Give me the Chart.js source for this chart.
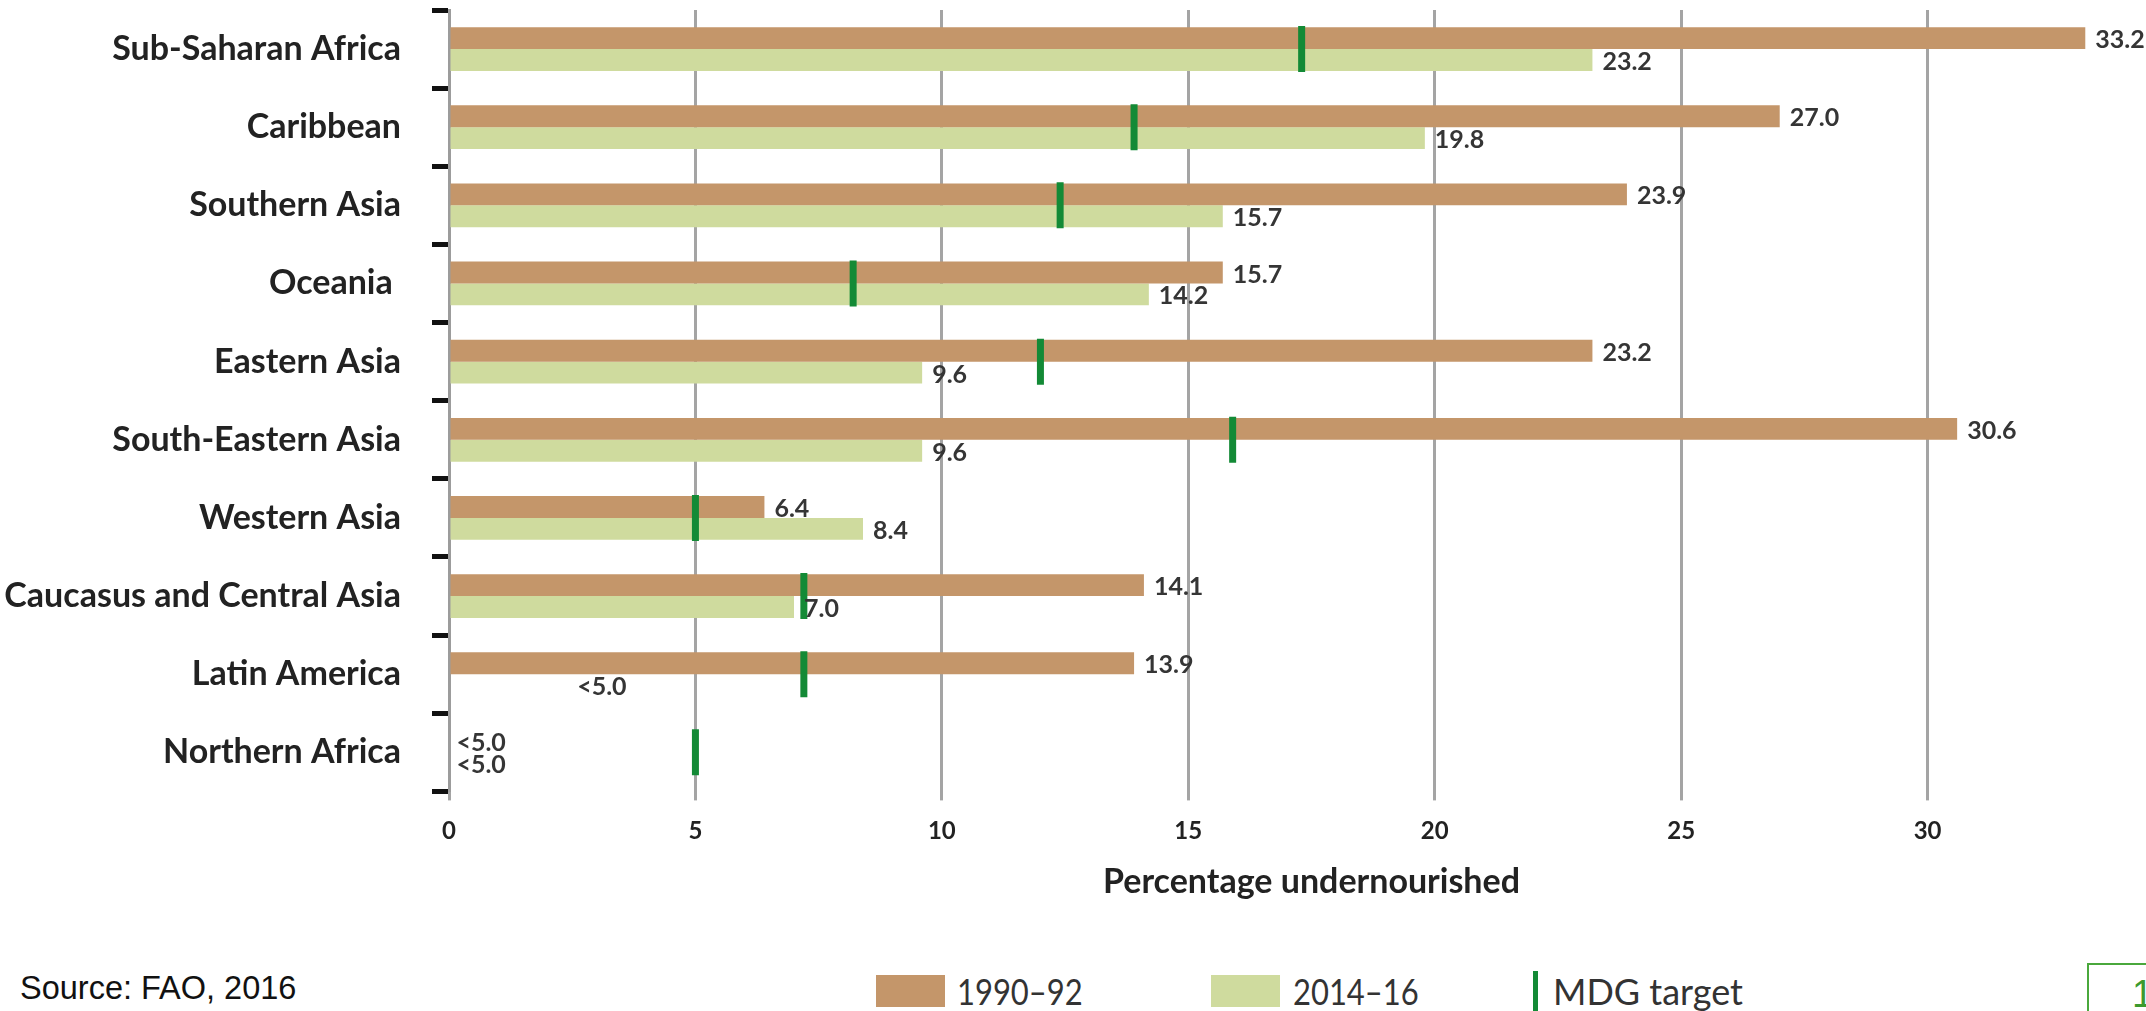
<!DOCTYPE html>
<html>
<head>
<meta charset="utf-8">
<script src="https://cdn.jsdelivr.net/npm/chart.js@4.4.1/dist/chart.umd.min.js"></script>
<style>
  html, body { margin: 0; padding: 0; background: #fff; overflow: hidden; }
  #page { position: relative; width: 2146px; height: 1011px; overflow: hidden; }
  #chartBox { position: absolute; left: 0; top: 0; width: 2176px; height: 902px; }
  .swatch { position: absolute; }
  .legText { position: absolute; font-family: Lato, "Open Sans", sans-serif; font-size: 36px; color: #333; line-height: 40px; white-space: nowrap; transform-origin: left center; }
  .narrow { transform: scaleX(0.86); }
  #source { position: absolute; left: 20px; top: 970px; font-family: "Liberation Sans", Arial, sans-serif; font-size: 32.5px; color: #111; line-height: 36px; white-space: nowrap; }
  #pageNo { position: absolute; left: 2087px; top: 963px; width: 120px; height: 100px; border: 2px solid #4aa83c; box-sizing: border-box; }
  #pageNo span { position: absolute; left: 43px; top: 8px; font-family: "Liberation Sans", Arial, sans-serif; font-size: 38px; color: #3c9a2e; }
</style>
</head>
<body>
<div id="page">
  <div id="chartBox"><canvas id="chart"></canvas></div>

  <div class="swatch" style="left:876px;top:975px;width:69px;height:32px;background:#C4966A;"></div>
  <div class="legText narrow" style="left:957px;top:971px;">1990–92</div>
  <div class="swatch" style="left:1211px;top:975px;width:69px;height:32px;background:#CFDB9E;"></div>
  <div class="legText narrow" style="left:1293px;top:971px;">2014–16</div>
  <div class="swatch" style="left:1533px;top:971px;width:5px;height:40px;background:#138a36;"></div>
  <div class="legText" style="left:1553px;top:971px;">MDG target</div>

  <div id="source">Source: FAO, 2016</div>
  <div id="pageNo"><span>1</span></div>
</div>

<script>
// Regions, in display order
const regions = [
  'Sub-Saharan Africa', 'Caribbean', 'Southern Asia', 'Oceania ', 'Eastern Asia',
  'South-Eastern Asia', 'Western Asia', 'Caucasus and Central Asia', 'Latin America', 'Northern Africa'
];
// Prevalence of undernourishment (%); null where the estimate is below 5.0
const pou1990 = [33.2, 27.0, 23.9, 15.7, 23.2, 30.6, 6.4, 14.1, 13.9, null];
const pou2014 = [23.2, 19.8, 15.7, 14.2, 9.6, 9.6, 8.4, 7.0, null, null];
// MDG 1c target level per region (%)
const mdgTarget = [17.3, 13.9, 12.4, 8.2, 12.0, 15.9, 5.0, 7.2, 7.2, 5.0];
// Axis ticks
const xTicks = [0, 5, 10, 15, 20, 25, 30];
const belowLabel = '<5.0';

const BROWN = '#C4966A';
const LIGHT_GREEN = '#CFDB9E';
const MDG_GREEN = '#138a36';
const GRID = '#a4a4a4';
const FONT = 'Lato, "Open Sans", sans-serif';

// Writes each bar's value just past its end; missing estimates show "<5.0"
const valueLabels = {
  id: 'valueLabels',
  afterDatasetsDraw(chart, args, opts) {
    const ctx = chart.ctx;
    const xs = chart.scales.x;
    ctx.save();
    ctx.font = opts.font;
    ctx.fillStyle = opts.color;
    ctx.textAlign = 'left';
    ctx.textBaseline = 'middle';
    [0, 1].forEach(di => {
      const meta = chart.getDatasetMeta(di);
      const values = chart.data.datasets[di].data;
      meta.data.forEach((bar, i) => {
        const v = values[i];
        const y = bar.y + opts.dy;
        if (v === null || v === undefined) {
          const at = (opts.missingAt[regions[i]] !== undefined) ? opts.missingAt[regions[i]] : opts.missingDefault;
          ctx.fillText(belowLabel, xs.getPixelForValue(at), y);
        } else {
          ctx.fillText(v.toFixed(1), xs.getPixelForValue(v) + opts.gap, y);
        }
      });
    });
    ctx.restore();
  }
};

new Chart(document.getElementById('chart'), {
  type: 'bar',
  data: {
    labels: regions,
    datasets: [
      {
        label: '1990–92',
        data: pou1990,
        backgroundColor: BROWN,
        categoryPercentage: 0.56,
        barPercentage: 1.0,
        order: 2
      },
      {
        label: '2014–16',
        data: pou2014,
        backgroundColor: LIGHT_GREEN,
        categoryPercentage: 0.56,
        barPercentage: 1.0,
        order: 2
      },
      {
        type: 'scatter',
        label: 'MDG target',
        data: mdgTarget.map((v, i) => ({ x: v, y: regions[i] })),
        showLine: false,
        pointStyle: 'line',
        rotation: 90,
        radius: 23,
        hoverRadius: 23,
        borderWidth: 7,
        borderColor: MDG_GREEN,
        backgroundColor: MDG_GREEN,
        order: 1
      }
    ]
  },
  options: {
    indexAxis: 'y',
    responsive: true,
    maintainAspectRatio: false,
    animation: false,
    events: [],
    layout: { autoPadding: false, padding: { left: 0, right: 2, top: 10, bottom: 0 } },
    plugins: {
      legend: { display: false },
      tooltip: { enabled: false },
      valueLabels: {
        font: '700 25px ' + FONT,
        color: '#353535',
        gap: 10,
        dy: 2,
        missingDefault: 0.15,
        missingAt: { 'Latin America': 2.6 }
      }
    },
    scales: {
      x: {
        type: 'linear',
        min: 0,
        max: 35,
        afterBuildTicks(scale) {
          scale.ticks = xTicks.map(v => ({ value: v }));
        },
        afterFit(scale) {
          scale.paddingLeft = 0;
          scale.paddingRight = 0;
        },
        grid: {
          color: GRID,
          lineWidth: 3,
          drawTicks: true,
          tickLength: 9,
          tickColor: GRID,
          tickWidth: 3
        },
        border: { display: false },
        ticks: {
          font: { family: FONT, size: 24, weight: '700' },
          color: '#222',
          padding: 16,
          maxRotation: 0
        },
        title: {
          display: true,
          text: 'Percentage undernourished',
          font: { family: FONT, size: 34, weight: '700' },
          color: '#222',
          padding: { top: 0, bottom: 0 }
        }
      },
      y: {
        type: 'category',
        position: 'left',
        offset: true,
        afterFit(scale) {
          scale.width = 449;
          scale.paddingTop = 0;
          scale.paddingBottom = 0;
        },
        grid: {
          display: true,
          offset: true,
          drawOnChartArea: false,
          drawTicks: true,
          tickLength: 17,
          tickWidth: 5,
          tickColor: '#111'
        },
        border: { display: true, color: '#9c9c9c', width: 3 },
        ticks: {
          font: { family: FONT, size: 34, weight: '700' },
          color: '#222',
          padding: 31,
          autoSkip: false
        }
      }
    }
  },
  plugins: [valueLabels]
});
</script>
</body>
</html>
